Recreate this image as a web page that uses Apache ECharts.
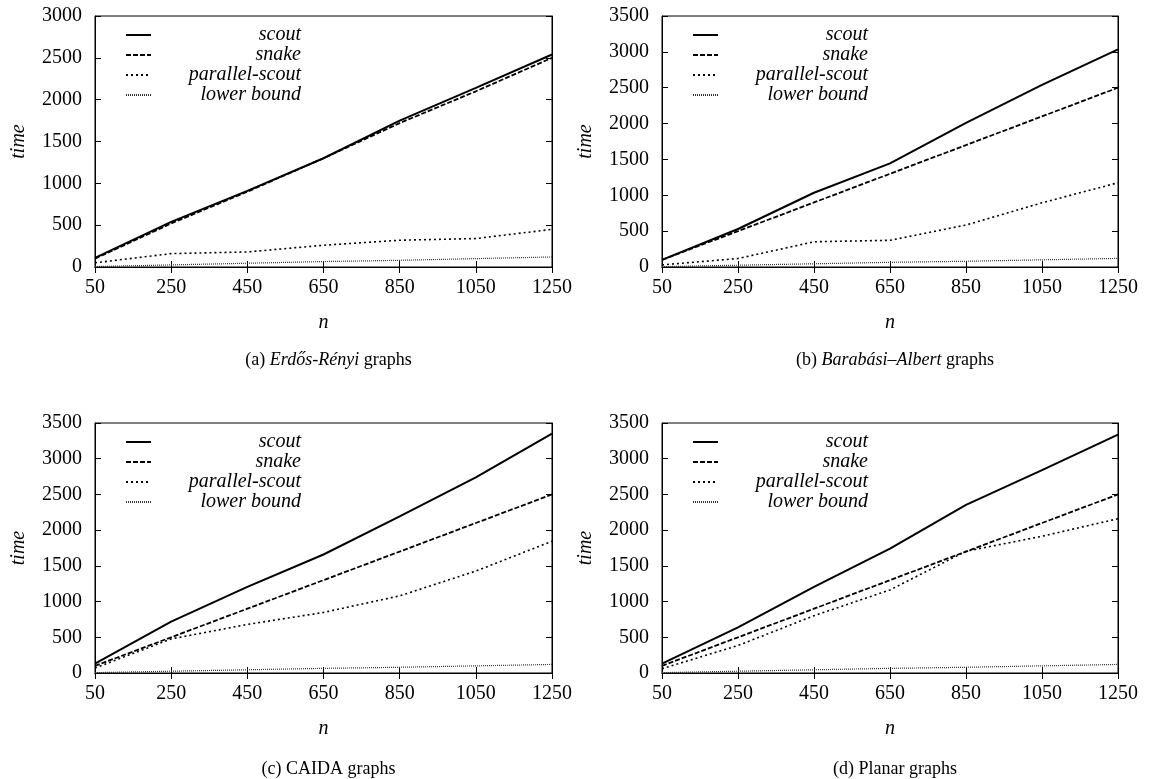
<!DOCTYPE html>
<html>
<head>
<meta charset="utf-8">
<title>scout vs snake</title>
<script src="https://cdn.jsdelivr.net/npm/echarts@6/dist/echarts.min.js"></script>
<style>
  html, body { margin: 0; padding: 0; background: #fff; }
  #box { width: 1151px; height: 779px; }
</style>
</head>
<body>
<div id="box"></div>
<script>
// x values (n)
var nValues = ['50', '250', '450', '650', '850', '1050', '1250'];
var seriesNames = ['scout', 'snake', 'parallel-scout', 'lower bound'];

// (a) Erdos-Renyi
var erScout    = [110, 540, 910, 1300, 1750, 2140, 2540];
var erSnake    = [100, 520, 900, 1300, 1720, 2100, 2500];
var erParallel = [50, 160, 180, 260, 320, 340, 450];
var erLower    = [5, 25, 45, 65, 80, 100, 120];

// (b) Barabasi-Albert
var baScout    = [100, 530, 1035, 1445, 2010, 2540, 3035];
var baSnake    = [100, 500, 900, 1300, 1700, 2100, 2500];
var baParallel = [30, 118, 352, 372, 585, 895, 1175];
var baLower    = [5, 25, 45, 65, 80, 100, 120];

// (c) CAIDA
var caScout    = [130, 718, 1205, 1659, 2192, 2739, 3350];
var caSnake    = [100, 500, 900, 1300, 1700, 2100, 2500];
var caParallel = [70, 477, 680, 848, 1080, 1427, 1844];
var caLower    = [5, 25, 45, 65, 80, 100, 120];

// (d) Planar
var plScout    = [130, 640, 1205, 1742, 2354, 2840, 3337];
var plSnake    = [100, 500, 900, 1300, 1700, 2100, 2500];
var plParallel = [60, 385, 802, 1163, 1705, 1914, 2160];
var plLower    = [5, 25, 45, 65, 80, 100, 120];

var yMax = [3000, 3500, 3500, 3500];
var captions = [
  '{n|(a) }{i|Erdős-Rényi}{n| graphs}',
  '{n|(b) }{i|Barabási–Albert}{n| graphs}',
  '{n|(c) CAIDA graphs}',
  '{n|(d) Planar graphs}'
];
var panelData = [
  [erScout, erSnake, erParallel, erLower],
  [baScout, baSnake, baParallel, baLower],
  [caScout, caSnake, caParallel, caLower],
  [plScout, plSnake, plParallel, plLower]
];

var FONT = 'Liberation Serif';
var lineStyles = [
  {color: '#000', width: 2, type: 'solid'},
  {color: '#000', width: 1.8, type: [5, 2]},
  {color: '#000', width: 1.6, type: [2, 3]},
  {color: '#333', width: 1.2, type: [1, 1]}
];

// plot boxes [left, top, width, height]
var boxes = [
  [95, 16, 457, 251],
  [662, 16, 456, 251],
  [95, 423, 457, 250],
  [662, 423, 456, 250]
];

var grids = [], xAxes = [], yAxes = [], series = [], legends = [], titles = [];
var tick = {show: true, inside: true, length: 6, lineStyle: {color: '#000', width: 1}};

boxes.forEach(function (b, i) {
  grids.push({left: b[0], top: b[1], width: b[2], height: b[3],
    show: true, borderColor: '#000', borderWidth: 1, containLabel: false});
  xAxes.push({
    gridIndex: i, type: 'category', data: nValues, boundaryGap: false,
    name: 'n', nameLocation: 'middle', nameGap: 46,
    nameTextStyle: {fontFamily: FONT, fontStyle: 'italic', fontSize: 20, color: '#000'},
    axisLine: {show: true, lineStyle: {color: '#000', width: 1}},
    axisTick: tick,
    axisLabel: {fontFamily: FONT, fontSize: 20, color: '#000', margin: 11},
    splitLine: {show: false}
  });
  yAxes.push({
    gridIndex: i, type: 'value', min: 0, max: yMax[i], interval: 500,
    name: 'time', nameLocation: 'middle', nameGap: 66, nameRotate: 90,
    nameTextStyle: {fontFamily: FONT, fontStyle: 'italic', fontSize: 20, color: '#000'},
    axisLine: {show: true, lineStyle: {color: '#000', width: 1}},
    axisTick: tick,
    axisLabel: {fontFamily: FONT, fontSize: 20, color: '#000', margin: 13,
      formatter: function (v) { return String(v); }},
    splitLine: {show: false}
  });
  titles.push({
    text: captions[i], left: b[0] + b[2] / 2, top: i < 2 ? 346 : 755, textAlign: 'center',
    textStyle: {fontWeight: 'normal', rich: {
      n: {fontFamily: FONT, fontSize: 18, fontWeight: 'normal', color: '#000'},
      i: {fontFamily: FONT, fontSize: 18, fontWeight: 'normal', fontStyle: 'italic', color: '#000'}
    }}
  });
  legends.push({
    left: b[0] + 25, top: b[1] + 4, orient: 'vertical', itemGap: 0,
    itemWidth: 25, itemHeight: 20, align: 'left',
    data: seriesNames,
    itemStyle: {opacity: 0},
    formatter: function (name) { return '{r|' + name + '}'; },
    textStyle: {rich: {r: {width: 145, height: 20, align: 'right', fontFamily: FONT, fontStyle: 'italic', fontSize: 20, color: '#000'}}},
    selectedMode: false
  });
  seriesNames.forEach(function (nm, k) {
    series.push({
      name: nm, type: 'line', xAxisIndex: i, yAxisIndex: i,
      data: panelData[i][k], symbol: 'none', silent: true,
      lineStyle: lineStyles[k], itemStyle: {color: lineStyles[k].color},
      animation: false
    });
  });
});

// mirrored ticks on top and right
boxes.forEach(function (b, i) {
  xAxes.push({
    gridIndex: i, type: 'category', data: nValues, boundaryGap: false, position: 'top',
    axisLine: {show: true, lineStyle: {color: '#000'}}, axisTick: tick, axisLabel: {show: false}
  });
  yAxes.push({
    gridIndex: i, type: 'value', min: 0, max: yMax[i], interval: 500, position: 'right',
    axisLine: {show: true, lineStyle: {color: '#000'}}, axisTick: tick, axisLabel: {show: false},
    splitLine: {show: false}
  });
});

var chart = echarts.init(document.getElementById('box'));
chart.setOption({
  animation: false,
  backgroundColor: '#fff',
  title: titles,
  legend: legends,
  grid: grids,
  xAxis: xAxes,
  yAxis: yAxes,
  series: series
});
</script>
</body>
</html>
